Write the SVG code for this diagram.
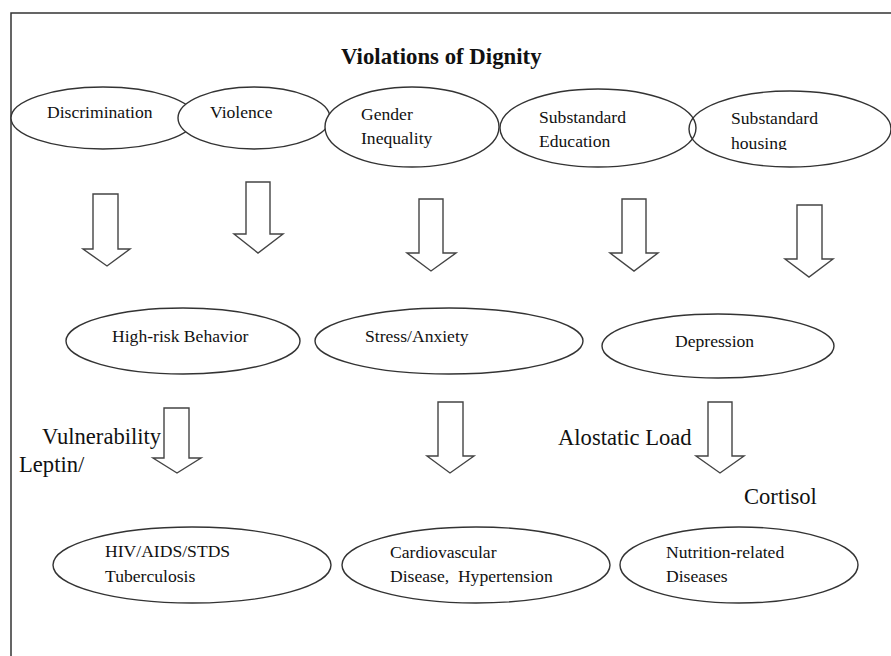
<svg xmlns="http://www.w3.org/2000/svg" width="891" height="656" viewBox="0 0 891 656">
<defs>
<style>
.n ellipse{fill:#fff;stroke:#333;stroke-width:1.4}
.arr polygon{fill:#fff;stroke:#444;stroke-width:1.4;stroke-linejoin:miter}
text{font-family:"Liberation Serif","Times New Roman",serif;fill:#111;font-size:17.6px}
.t{font-weight:bold;font-size:22.8px}
.l{font-size:22.6px}
.frame{stroke:#333;stroke-width:1.5;fill:none}
</style>
<clipPath id="hclip"><rect x="689" y="90" width="202" height="60"/></clipPath>
</defs>
<rect width="891" height="656" fill="#fff"/>
<path class="frame" d="M11,656 V13 H891"/>
<text class="t" x="341" y="64">Violations of Dignity</text>

<g id="discrimination" class="n"><ellipse cx="103" cy="118" rx="92" ry="31"/><text x="47" y="118">Discrimination</text></g>
<g id="violence" class="n"><ellipse cx="254" cy="118" rx="76" ry="31"/><text x="210" y="118">Violence</text></g>
<g id="gender" class="n"><ellipse cx="412" cy="127" rx="87" ry="40"/><text x="361" y="120">Gender</text><text x="361" y="144">Inequality</text></g>
<g id="housing" class="n"><ellipse cx="790" cy="129" rx="101" ry="38"/><g clip-path="url(#hclip)"><text x="731" y="124">Substandard</text><text x="731" y="149">housing</text></g></g>
<g id="education" class="n"><ellipse cx="598" cy="128" rx="98" ry="39" fill-opacity="0"/><text x="539" y="123">Substandard</text><text x="539" y="147">Education</text></g>

<g id="highrisk" class="n"><ellipse cx="183" cy="341" rx="117" ry="33"/><text x="112" y="342">High-risk Behavior</text></g>
<g id="stress" class="n"><ellipse cx="449" cy="341" rx="134" ry="33"/><text x="365" y="342">Stress/Anxiety</text></g>
<g id="depression" class="n"><ellipse cx="718" cy="346" rx="116" ry="32"/><text x="675" y="347">Depression</text></g>

<g id="hiv" class="n"><ellipse cx="192" cy="565" rx="139" ry="38"/><text x="105" y="557">HIV/AIDS/STDS</text><text x="105" y="582">Tuberculosis</text></g>
<g id="cardio" class="n"><ellipse cx="476" cy="565" rx="134" ry="38"/><text x="390" y="558">Cardiovascular</text><text x="390" y="582" xml:space="preserve">Disease,  Hypertension</text></g>
<g id="nutrition" class="n"><ellipse cx="739" cy="565" rx="119" ry="38"/><text x="666" y="558">Nutrition-related</text><text x="666" y="582">Diseases</text></g>

<g id="connectors" class="arr">
<polygon points="93,194 118,194 118,249 130,249 107,266 83,249 93,249"/>
<polygon points="246,182 270,182 270,234 283,234 258,253 234,234 246,234"/>
<polygon points="419,199 443,199 443,253 456,253 431,271 407,253 419,253"/>
<polygon points="622,199 646,199 646,253 658,253 634,271 610,253 622,253"/>
<polygon points="797,205 822,205 822,259 833,259 809,277 785,259 797,259"/>
<polygon points="164,408 189,408 189,458 201,458 177,473 153,458 164,458"/>
<polygon points="438,402 463,402 463,456 474,456 450,473 427,456 438,456"/>
<polygon points="708,402 732,402 732,456 744,456 720,473 696,456 708,456"/>
</g>

<text class="l" x="42" y="444">Vulnerability</text>
<text class="l" x="19" y="472">Leptin/</text>
<text class="l" x="558" y="445">Alostatic Load</text>
<text class="l" x="744" y="504">Cortisol</text>
</svg>
